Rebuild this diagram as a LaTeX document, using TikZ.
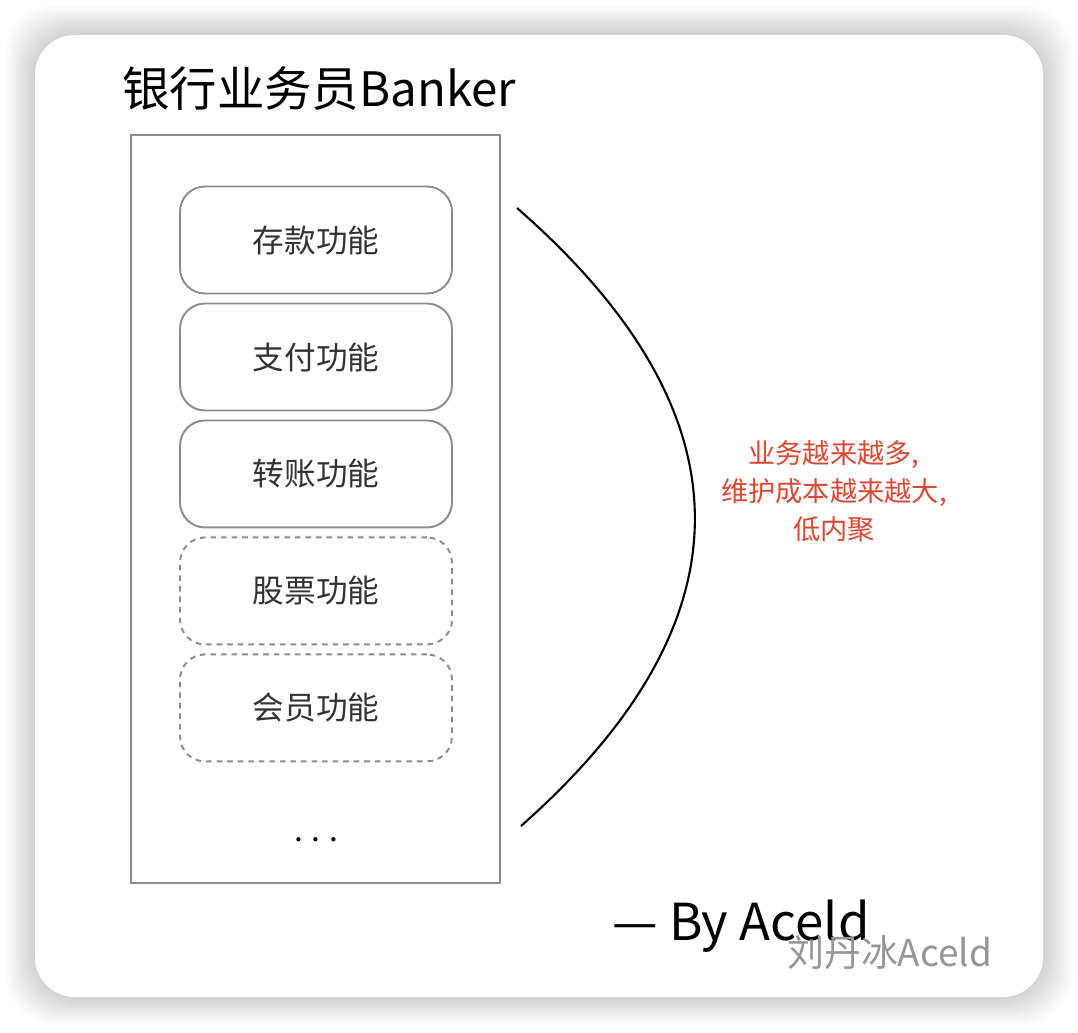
\documentclass[tikz,border=0pt]{standalone}
\usepackage{fontspec}
\setmainfont{Noto Sans CJK SC}
\usetikzlibrary{positioning}

\definecolor{boxgray}{RGB}{140,140,140}
\definecolor{notered}{RGB}{217,72,50}
\definecolor{markgray}{RGB}{150,150,150}

\tikzset{
	funcbox/.style={draw=boxgray,line width=1.1pt,rounded corners=0.5cm,minimum width=5.44cm,minimum height=2.14cm,inner sep=0pt,outer sep=0pt,font=\fontsize{18}{20}\selectfont,text=black!80},
	planbox/.style={funcbox,dash pattern=on 3.2pt off 2.8pt}
}

\begin{document}
\begin{tikzpicture}[x=0.02cm,y=-0.02cm]
	\useasboundingbox (0,0) rectangle (1078,1032);
	\foreach \s in {2,4,...,30}
		\fill[black,opacity=0.01,rounded corners=1cm] (35-\s,35-\s) rectangle (1043+\s,997+\s*0.9);
	\fill[white,rounded corners=0.8cm] (35,35) rectangle (1043,997);
	\node[anchor=base west,font=\fontsize{27}{30}\selectfont] (title) at (116,106) {银行业务员Banker};
	\node[draw=boxgray,line width=1.1pt,minimum width=7.38cm,minimum height=14.96cm,inner sep=0pt] (banker) at (315.5,509) {};
	\node[funcbox] (save) at (316,240) {存款功能};
	\node[funcbox,below=0.2cm of save] (pay) {支付功能};
	\node[funcbox,below=0.2cm of pay] (transfer) {转账功能};
	\node[planbox,below=0.2cm of transfer] (stock) {股票功能};
	\node[planbox,below=0.2cm of stock] (member) {会员功能};
	\node[font=\fontsize{18}{20}\selectfont] (more) at (316,840) {.\hspace{5pt}.\hspace{5pt}.};
	\coordinate (top) at (517,208);
	\coordinate (bottom) at (521,826);
	\draw[line width=1.2pt] (top) .. controls (753,414) and (754,620) .. (bottom);
	\node[align=center,text=notered,font=\fontsize{15.5}{21.5}\selectfont] (note) at (834,491) {业务越来越多,\\维护成本越来越大,\\低内聚};
	\node[anchor=base west,font=\fontsize{29}{32}\selectfont] (by) at (606,940) {— By Aceld};
	\node[anchor=base west,text=markgray,font=\fontsize{21}{24}\selectfont] (mark) at (781,966) {刘丹冰Aceld};
\end{tikzpicture}
\end{document}
